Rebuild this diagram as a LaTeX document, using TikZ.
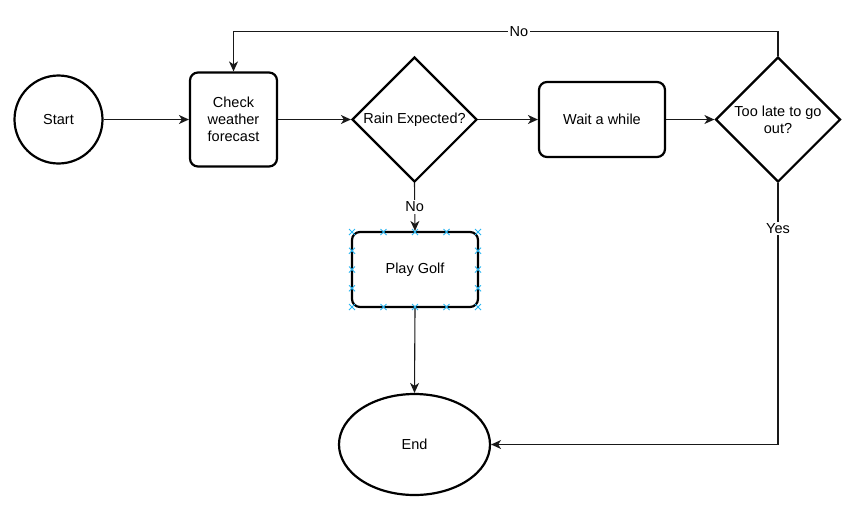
\documentclass[tikz,border=0pt]{standalone}
\usepackage{fontspec}
\setmainfont{Liberation Sans}
\usetikzlibrary{shapes.geometric,arrows.meta}
\definecolor{handleblue}{HTML}{29B6F2}

\begin{document}
\begin{tikzpicture}[x=1pt,y=-1pt,
    font=\fontsize{14.5}{17}\selectfont,
    shape border/.style={draw=black,line width=2.2pt},
    terminal/.style={shape border,circle,minimum size=88pt,inner sep=0pt},
    process/.style={shape border,rectangle,rounded corners=8pt,inner sep=2pt,align=center},
    decision/.style={shape border,diamond,aspect=1,minimum width=125pt,minimum height=125pt,inner sep=0pt,align=center},
    edge/.style={draw=black!90,line width=1.1pt,-{Stealth[length=10pt,width=9pt,inset=3pt]}},
    lbl/.style={fill=white,inner sep=1.5pt},
    handle/.style={draw=handleblue,line width=1pt}]
    \useasboundingbox (0,0) rectangle (866,515);
    % shapes
    \node[terminal] (start) at (58.5,119.5) {Start};
    \node[process,minimum width=87pt,minimum height=94pt] (check) at (233.5,119.5) {Check\\weather\\forecast};
    \node[decision] (rain) at (414.5,119.5) {Rain Expected?};
    \node[process,minimum width=126pt,minimum height=75pt] (wait) at (602,119.5) {Wait a while};
    \node[decision] (late) at (778,119.5) {Too late to go\\out?};
    \node[process,minimum width=126pt,minimum height=75pt] (golf) at (415,269.5) {Play Golf};
    \node[shape border,ellipse,minimum width=151pt,minimum height=101pt] (end) at (414.5,444.5) {End};
    % connectors
    \draw[edge] (start) -- (check);
    \draw[edge] (check) -- (rain);
    \draw[edge] (rain) -- (wait);
    \draw[edge] (wait) -- (late);
    \draw[edge] (late.north) -- ++(0,-24) -| node[lbl,pos=0.238] {No} (check.north);
    \draw[edge] (rain.south) -- node[lbl] {No} (golf.north);
    \draw[edge] (golf.south) -- (end.north);
    \draw[edge] (late.south) |- node[lbl,pos=0.0875] {Yes} (end.east);
    % selection handles round Play Golf
    \foreach \x in {352,383.5,415,446.5,478}
        \foreach \y in {232,307}
            \draw[handle] (\x,\y) +(-3,-3) -- +(3,3) +(-3,3) -- +(3,-3);
    \foreach \x in {352,478}
        \foreach \y in {250.75,269.5,288.25}
            \draw[handle] (\x,\y) +(-3,-3) -- +(3,3) +(-3,3) -- +(3,-3);
\end{tikzpicture}
\end{document}
